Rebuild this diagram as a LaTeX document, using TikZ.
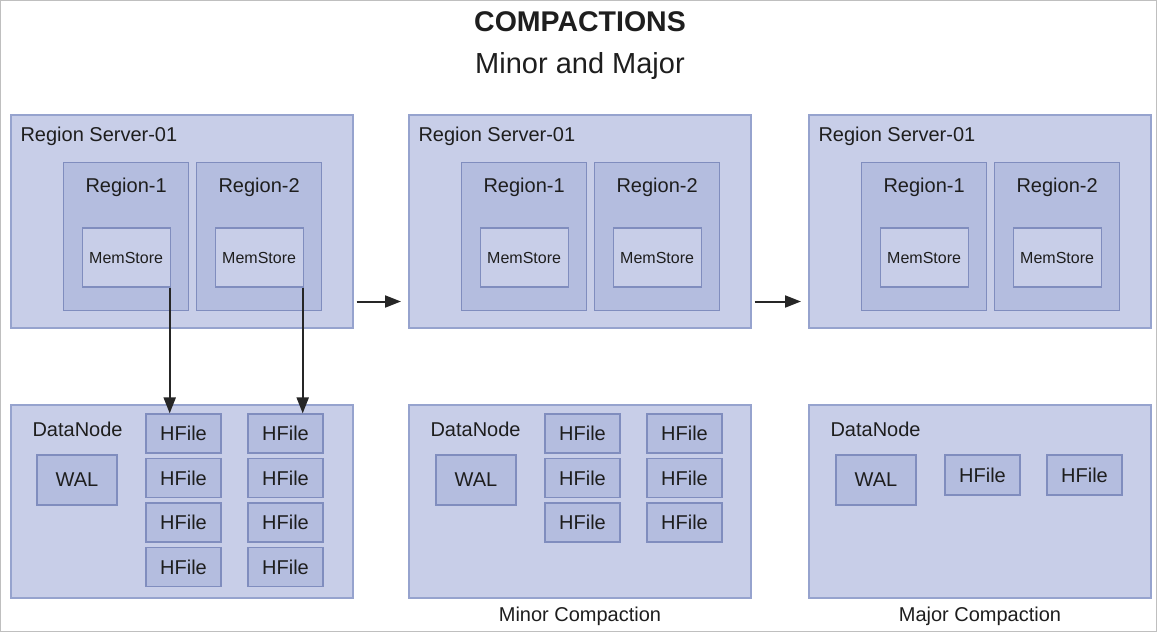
\documentclass[tikz,border=0pt]{standalone}
\usepackage{fontspec}
\setmainfont{Liberation Sans}
\usetikzlibrary{positioning}
\usetikzlibrary{arrows.meta,calc}

\definecolor{boxfill}{RGB}{200,206,232}
\definecolor{boxline}{RGB}{150,163,206}
\definecolor{cellfill}{RGB}{180,189,223}
\definecolor{cellline}{RGB}{128,141,190}
\definecolor{txt}{RGB}{30,30,30}

\begin{document}
\begin{tikzpicture} [
       x=1pt, y=-1pt,
       every node/.style={text=txt, font=\fontsize{20}{24}\selectfont},
       panel/.style={draw=boxline, fill=boxfill, line width=1.5pt,
               anchor=north west, inner sep=0pt, minimum width=342pt},
       region/.style={draw=cellline, fill=cellfill, line width=1.2pt,
               anchor=north west, inner sep=0pt,
               minimum width=125pt, minimum height=148pt},
       memstore/.style={draw=cellline, fill=boxfill, line width=1.2pt,
               inner sep=0pt, minimum width=88pt, minimum height=59pt,
               font=\fontsize{16}{19}\selectfont},
       hfile/.style={draw=cellline, fill=cellfill, line width=1.2pt,
               inner sep=0pt, minimum width=75pt, minimum height=39pt},
       wal/.style={hfile, minimum width=80pt, minimum height=50pt},
       line/.style={draw=black!85, line width=2pt,
               -{Triangle[length=16pt,width=12pt]}},
       ]
       \useasboundingbox (0,0) rectangle (1157,632);
       \draw[black!25] (0.5,0.5) rectangle (1156.5,631.5);

       % titles
       \node (title) at (580,22) {\fontsize{28.5}{32}\selectfont\bfseries COMPACTIONS};
       \node (subtitle) at (580,66) {\fontsize{29}{33}\selectfont Minor and Major};

       % region servers
       \foreach \p/\dx in {a/0, b/398, c/798} {
         \node (rs\p) [panel, minimum height=213pt] at (10+\dx,114) {};
         \node [anchor=base west] at (17+\dx,141) {Region Server-01};
         \node (reg\p1) [region] at (63+\dx,162) {};
         \node (reg\p2) [region] at (196+\dx,162) {};
         \node [anchor=base] at ($(reg\p1.north)+(0,30)$) {Region-1};
         \node [anchor=base] at ($(reg\p2.north)+(0,30)$) {Region-2};
         \node (mem\p1) [memstore] at ($(reg\p1.north)+(0,95.5)$) {MemStore};
         \node (mem\p2) [memstore] at ($(reg\p2.north)+(0,95.5)$) {MemStore};
         \node (dn\p) [panel, minimum height=193pt] at (10+\dx,404) {};
         \node [anchor=base west] at (29+\dx,436) {DataNode};
       }

       % data node contents
       \node (wala) [wal] at (77,480) {WAL};
       \node (walb) [wal] at (476,480) {WAL};
       \node (walc) [wal] at (876,480) {WAL};
       \foreach \r/\y in {1/433.5, 2/478, 3/522.5, 4/567} {
         \node (hfa1\r) [hfile] at (183.5,\y) {HFile};
         \node (hfa2\r) [hfile] at (285.5,\y) {HFile};
       }
       \foreach \r/\y in {1/433.5, 2/478, 3/522.5} {
         \node (hfb1\r) [hfile] at (582.5,\y) {HFile};
         \node (hfb2\r) [hfile] at (684.5,\y) {HFile};
       }
       \node (hfc1) [hfile, minimum height=40pt] at (982.5,475) {HFile};
       \node (hfc2) [hfile, minimum height=40pt] at (1084.5,475) {HFile};

       % captions
       \node (minor) at (580,616) {Minor Compaction};
       \node (major) at (980,616) {Major Compaction};

       % flushes and steps
       \draw [line] ([xshift=-1pt]mema1.south east) -- ([xshift=-1pt]mema1.south east |- hfa11.north);
       \draw [line] ([xshift=-1pt]mema2.south east) -- ([xshift=-1pt]mema2.south east |- hfa21.north);
       \draw [line] ([xshift=3pt,yshift=27pt]rsa.south east) -- ([xshift=-7pt,yshift=27pt]rsb.south west);
       \draw [line] ([xshift=3pt,yshift=27pt]rsb.south east) -- ([xshift=-7pt,yshift=27pt]rsc.south west);
\end{tikzpicture}
\end{document}
